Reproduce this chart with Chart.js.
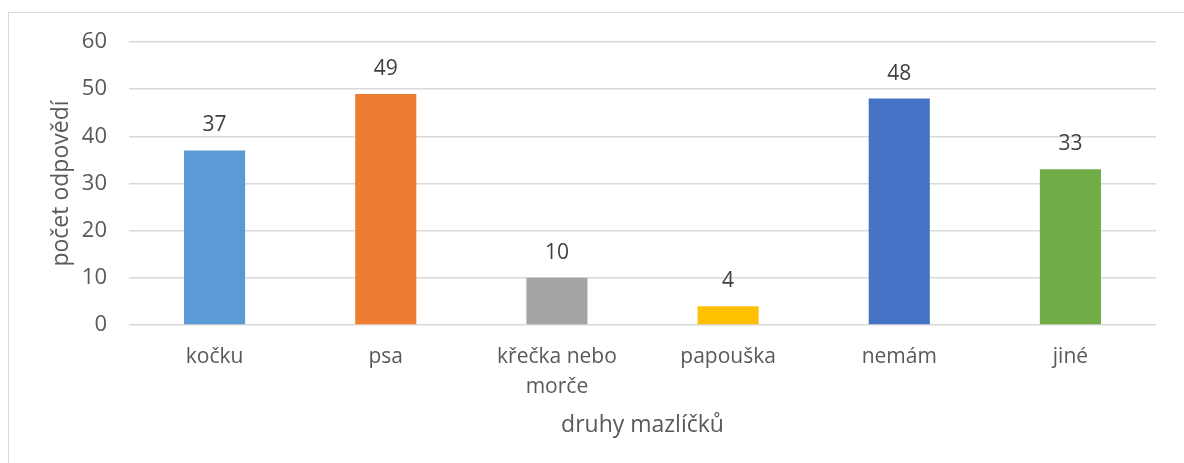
<!DOCTYPE html>
<html>
<head>
<meta charset="utf-8">
<script src="https://cdn.jsdelivr.net/npm/chart.js@4"></script>
<style>
  html, body { margin: 0; padding: 0; background: #fff; overflow: hidden; }
  #frame { position: absolute; left: 8px; top: 12px; width: 1300px; height: 600px; border: 1.5px solid #d9d9d9; }
  #wrap { position: absolute; left: 0; top: 0; width: 1184px; height: 463px; }
</style>
</head>
<body>
<div id="frame"></div>
<div id="wrap"><canvas id="chart"></canvas></div>
<script>
var categories = ["kočku", "psa", ["křečka nebo", "morče"], "papouška", "nemám", "jiné"];
var counts = [37, 49, 10, 4, 48, 33];
var barColors = ["#5B9BD5", "#ED7D31", "#A5A5A5", "#FFC000", "#4472C4", "#70AD47"];
var yTicks = [0, 10, 20, 30, 40, 50, 60];

var FONT = "'Open Sans', sans-serif";

// values above bars (no datalabels plugin offline)
var barValues = {
  id: "barValues",
  afterDatasetsDraw: function(chart){
    var ctx = chart.ctx;
    var meta = chart.getDatasetMeta(0);
    ctx.save();
    ctx.font = "21px " + FONT;
    ctx.fillStyle = "#404040";
    ctx.textAlign = "center";
    ctx.textBaseline = "middle";
    meta.data.forEach(function(bar, i){
      ctx.fillText(String(counts[i]), bar.x, bar.y - 25);
    });
    ctx.restore();
  }
};

new Chart(document.getElementById("chart"), {
  type: "bar",
  data: {
    labels: categories,
    datasets: [{
      data: counts,
      backgroundColor: barColors,
      categoryPercentage: 1,
      barPercentage: 0.357
    }]
  },
  options: {
    responsive: true,
    maintainAspectRatio: false,
    animation: false,
    layout: { padding: { top: 42, right: 28, left: 0, bottom: 0 } },
    plugins: { legend: { display: false }, tooltip: { enabled: false } },
    scales: {
      x: {
        grid: { display: false, drawTicks: false },
        border: { display: false },
        ticks: {
          color: "#595959",
          font: { family: FONT, size: 21, lineHeight: 1.43 },
          padding: 17,
          maxRotation: 0,
          autoSkip: false
        },
        title: {
          display: true,
          text: "druhy mazlíčků",
          color: "#595959",
          font: { family: FONT, size: 23 },
          padding: { top: 0, bottom: 24 }
        },
        afterFit: function(s){ s.height = 463 - 325; }
      },
      y: {
        min: 0,
        max: 60,
        afterBuildTicks: function(s){ s.ticks = yTicks.map(function(v){ return { value: v }; }); },
        grid: { color: "#d9d9d9", lineWidth: 1.5, drawTicks: false },
        border: { display: false },
        ticks: {
          color: "#595959",
          font: { family: FONT, size: 22 },
          padding: 22
        },
        title: {
          display: true,
          text: "počet odpovědí",
          color: "#595959",
          font: { family: FONT, size: 23 },
          padding: { top: 48, bottom: 0 }
        },
        afterFit: function(s){ s.width = 129; }
      }
    }
  },
  plugins: [barValues]
});
</script>
</body>
</html>
